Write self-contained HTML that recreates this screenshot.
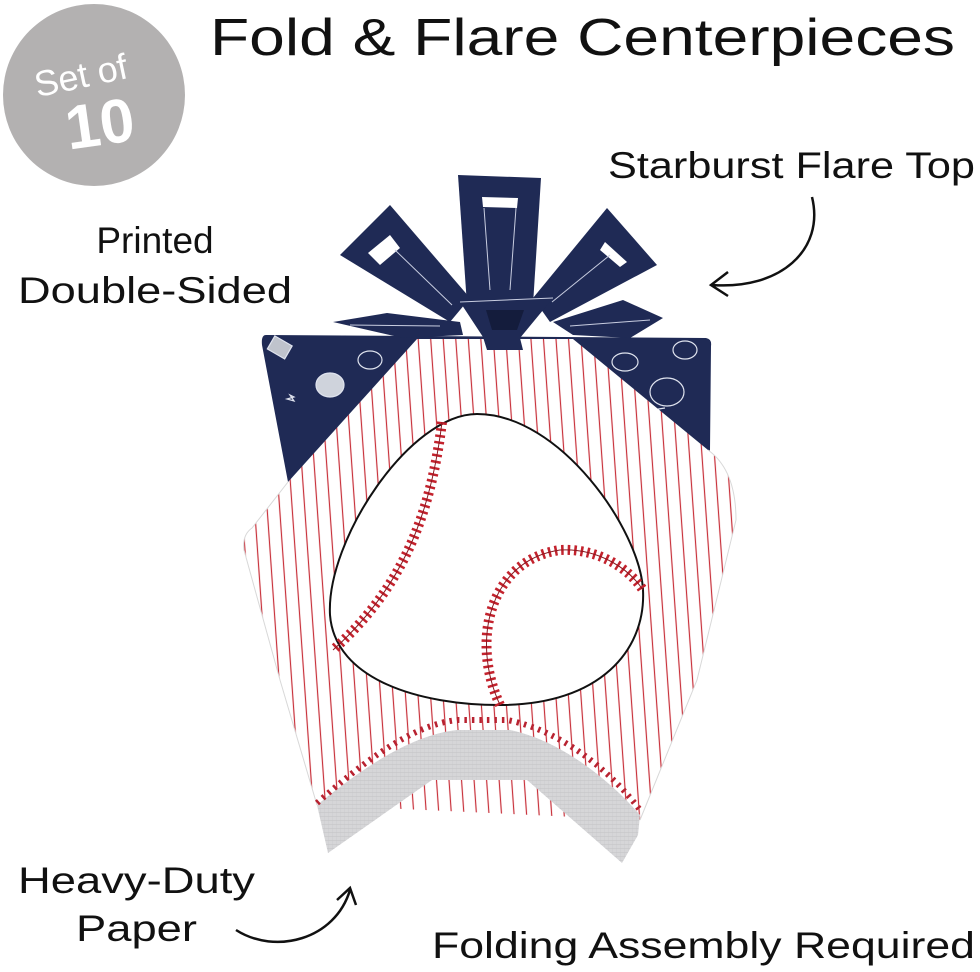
<!DOCTYPE html>
<html><head><meta charset="utf-8"><style>
html,body{margin:0;padding:0;background:#fff;}
svg{display:block;}
text{font-family:"Liberation Sans",sans-serif;}
</style></head><body>
<svg width="980" height="972" viewBox="0 0 980 972" xmlns="http://www.w3.org/2000/svg">
<defs>
<pattern id="pin" x="0" y="0" width="12.5" height="20" patternUnits="userSpaceOnUse" patternTransform="rotate(-4)">
<rect width="12.5" height="20" fill="#fff"/>
<line x1="6" y1="0" x2="6" y2="20" stroke="#c8303a" stroke-width="1.2"/>
</pattern>
<pattern id="grid" width="4" height="4" patternUnits="userSpaceOnUse">
<rect width="4" height="4" fill="#d6d6d8"/>
<line x1="0" y1="0" x2="4" y2="0" stroke="#bcbcbf" stroke-width="0.8"/>
<line x1="0" y1="0" x2="0" y2="4" stroke="#c6c6c9" stroke-width="0.6"/>
</pattern>
</defs>

<circle cx="94" cy="95" r="91" fill="#b3b1b1"/>
<g transform="rotate(-12 90 80)">
<text x="82" y="86" font-size="36" fill="#fff" text-anchor="middle">Set of</text>
</g>
<g transform="rotate(-8 100 125)">
<text x="100" y="145" font-size="62" font-weight="bold" fill="#fff" text-anchor="middle">10</text>
</g>

<text x="210" y="55" font-size="52" fill="#111" textLength="745" lengthAdjust="spacingAndGlyphs">Fold &amp; Flare Centerpieces</text>
<text x="608" y="178" font-size="37" fill="#111" textLength="367" lengthAdjust="spacingAndGlyphs">Starburst Flare Top</text>
<text x="155" y="253" font-size="37" fill="#111" text-anchor="middle">Printed</text>
<text x="18" y="303" font-size="37" fill="#111" textLength="274" lengthAdjust="spacingAndGlyphs">Double-Sided</text>
<text x="18" y="893" font-size="37" fill="#111" textLength="237" lengthAdjust="spacingAndGlyphs">Heavy-Duty</text>
<text x="76" y="941" font-size="37" fill="#111" textLength="121" lengthAdjust="spacingAndGlyphs">Paper</text>
<text x="432" y="958" font-size="37" fill="#111" textLength="543" lengthAdjust="spacingAndGlyphs">Folding Assembly Required</text>

<path d="M812 197 C 825 250, 780 290, 712 285" fill="none" stroke="#111" stroke-width="2.5"/>
<path d="M728 272 L711 285 L728 296" fill="none" stroke="#111" stroke-width="2.5"/>
<path d="M236 930 C 275 955, 335 940, 350 890" fill="none" stroke="#111" stroke-width="2.5"/>
<path d="M337 900 L350 888 L356 905" fill="none" stroke="#111" stroke-width="2.5"/>

<path d="M266 335 L706 338 Q712 339 711 346 L710 450 L640 520 L300 520 L288 482 L262 345 Q261 335 266 335 Z" fill="#1f2a55"/>
<g fill="none" stroke="#dfe3ee" stroke-width="1.2">
<ellipse cx="330" cy="385" rx="14" ry="12" fill="#cfd3dc"/>
<ellipse cx="370" cy="360" rx="12" ry="9"/>
<rect x="270" y="340" width="20" height="15" fill="#bfc3cc" transform="rotate(30 280 347)"/>
<ellipse cx="685" cy="350" rx="12" ry="9"/>
<ellipse cx="667" cy="392" rx="17" ry="14"/>
<ellipse cx="625" cy="362" rx="13" ry="9"/>
<path d="M620 415 L665 408"/>
<path d="M290 395 l4 6 l-7 -2 l7 -2 z"/>
</g>

<path d="M417 339 L573 339 L708 450 Q736 470 736 520 L697 680 L640 820 L317 805 L280 680 L244 550 Q242 535 252 528 L288 482 Z" fill="url(#pin)"/>
<path d="M317 805 L280 680 L244 550 Q242 535 252 528 L288 482" fill="none" stroke="#d8d8d8" stroke-width="1"/>
<path d="M708 450 Q736 470 736 520 L697 680 L640 820" fill="none" stroke="#d8d8d8" stroke-width="1"/>

<path d="M317 805 C 360 770, 410 735, 457 730 L510 730 C 560 740, 610 780, 640 815 L638 835 L622 863 L527 780 L432 780 L328 853 Z" fill="url(#grid)"/>
<path d="M317 803 C 360 765, 410 725, 457 720 L507 720 C 560 730, 610 770, 640 810" fill="none" stroke="#b82230" stroke-width="6" stroke-dasharray="2.5 5"/>

<path d="M477 414 C 560 414, 640 530, 643 590 C 646 650, 600 705, 500 705 C 420 705, 335 680, 330 615 C 326 540, 410 414, 477 414 Z" fill="#fff" stroke="#111" stroke-width="2"/>
<path d="M442 422 C 430 520, 400 590, 333 650" fill="none" stroke="#c3222d" stroke-width="10" stroke-dasharray="2.5 4"/>
<path d="M442 422 C 430 520, 400 590, 333 650" fill="none" stroke="#8a1820" stroke-width="1"/>
<path d="M500 705 C 470 640, 490 560, 560 550 C 600 548, 630 570, 643 590" fill="none" stroke="#c3222d" stroke-width="10" stroke-dasharray="2.5 4"/>
<path d="M500 705 C 470 640, 490 560, 560 550 C 600 548, 630 570, 643 590" fill="none" stroke="#8a1820" stroke-width="1"/>

<!-- starburst -->
<g fill="#1f2a55">
<polygon points="458,175 541,178 533,305 467,305"/>
<polygon points="340,255 390,205 470,298 450,322"/>
<polygon points="607,208 657,265 550,322 533,298"/>
<polygon points="333,322 387,313 460,322 463,335 403,338"/>
<polygon points="663,318 623,300 553,322 573,335 630,338"/>
<polygon points="460,302 553,298 520,338 523,350 487,350 483,337"/>
</g>
<g fill="#fff">
<polygon points="482,197 518,198 517,208 483,207"/>
<polygon points="368,253 390,235 400,248 380,265"/>
<polygon points="605,242 627,262 620,267 600,250"/>
</g>
<g fill="none" stroke="#c8cde0" stroke-width="1">
<path d="M484 208 L490 290 M516 208 L510 290"/>
<path d="M395 250 L452 305"/>
<path d="M610 255 L552 302"/>
<path d="M350 325 L440 326"/>
<path d="M650 320 L570 326"/>
<path d="M460 302 L553 298"/>
</g>
<polygon points="486,310 524,310 517,330 492,330" fill="#141c3c"/>
</svg>
</body></html>
